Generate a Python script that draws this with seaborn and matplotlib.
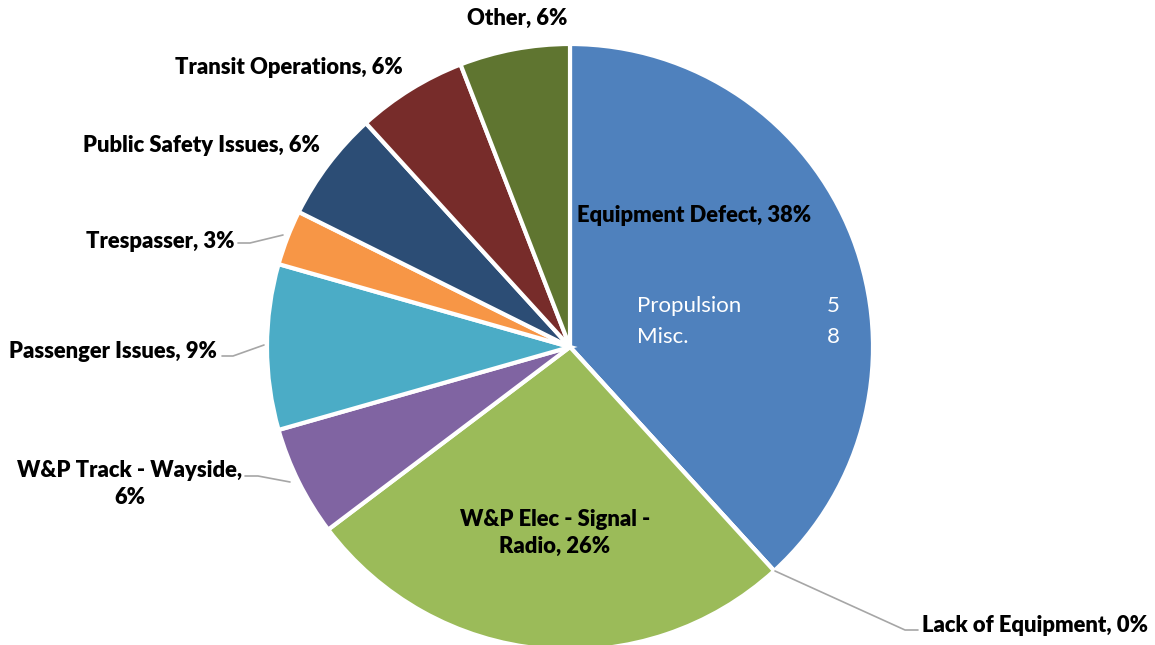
import matplotlib
matplotlib.use("Agg")
import matplotlib.pyplot as plt
import seaborn as sns

# данные
categories = ["Equipment Defect", "Lack of Equipment", "W&P Elec - Signal - Radio",
              "W&P Track - Wayside", "Passenger Issues", "Trespasser",
              "Public Safety Issues", "Transit Operations", "Other"]
counts = [13, 0, 9, 2, 3, 1, 2, 2, 2]
sub_names = ["Propulsion", "Misc."]
sub_counts = [5, 8]
colors = ["#4F81BD", "#C0504D", "#9BBB59", "#8064A2", "#4BACC6",
          "#F79646", "#2C4D75", "#772C2A", "#5F7530"]

sns.set_theme(style="white")
plt.rcParams['font.family'] = ['Lato', 'DejaVu Sans']

W, H = 1155, 645
fig = plt.figure(figsize=(W / 100, H / 100), dpi=100)
ax = fig.add_axes([0, 0, 1, 1])
cx, cy, r = 570, H - 347, 303

ax.pie(counts, colors=colors, startangle=90, counterclock=False,
       center=(cx, cy), radius=r,
       wedgeprops=dict(edgecolor="white", linewidth=3))
ax.set_xlim(0, W)
ax.set_ylim(0, H)
ax.set_aspect("auto")
ax.axis("off")

total = sum(counts)
pct = [round(c / total * 100) for c in counts]
lab = [f"{n}, {p}%" for n, p in zip(categories, pct)]
fs = 15.8
bold = dict(fontsize=fs, fontweight="heavy", color="black")

def Y(y):
    return H - y

# подписи внутри
ax.text(694, Y(215), lab[0], ha="center", va="center", **bold)
ax.text(555, Y(533), "W&P Elec - Signal -\n" + f"Radio, {pct[2]}%",
        ha="center", va="center", linespacing=1.35, **bold)
for i, (n, c) in enumerate(zip(sub_names, sub_counts)):
    yy = Y(306 + 31 * i)
    ax.text(637, yy, n, ha="left", va="center", fontsize=16, color="white")
    ax.text(840, yy, str(c), ha="right", va="center", fontsize=16, color="white")

# подписи снаружи
ax.text(517, Y(18), lab[8], ha="center", va="center", **bold)
ax.text(403, Y(68), lab[7], ha="right", va="center", **bold)
ax.text(320, Y(146), lab[6], ha="right", va="center", **bold)
ax.text(234, Y(241), lab[5], ha="right", va="center", **bold)
ax.text(217, Y(352), lab[4], ha="right", va="center", **bold)
ax.text(130, Y(484), "W&P Track - Wayside,\n" + f"{pct[3]}%", ha="center",
        va="center", linespacing=1.35, **bold)
ax.text(922, Y(625), lab[1], ha="left", va="center", **bold)

lc = dict(color="#A6A6A6", linewidth=1.2)
ax.plot([238, 250, 283], [Y(243), Y(243), Y(235)], **lc)
ax.plot([222, 233, 264], [Y(356), Y(356), Y(345)], **lc)
ax.plot([245, 258, 290], [Y(476), Y(476), Y(482)], **lc)
ax.plot([775, 905, 918], [Y(571), Y(630), Y(630)], **lc)

fig.savefig("out.png", dpi=100, facecolor="white")
